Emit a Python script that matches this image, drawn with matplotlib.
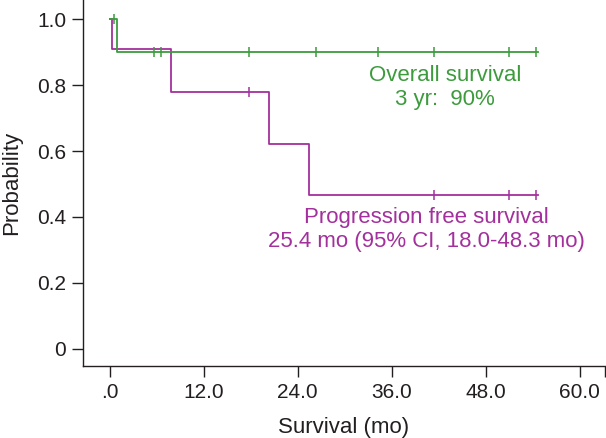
import matplotlib
matplotlib.use("Agg")
import matplotlib.pyplot as plt

plt.rcParams['font.family'] = ['Liberation Sans', 'DejaVu Sans']

# overall survival (months, probability)
os_t = [0, 1.0, 54.7]
os_s = [1.0, 0.90, 0.90]
os_cens_t = [0.5, 5.6, 6.6, 17.8, 26.3, 34.3, 41.4, 51.0, 54.4]
os_cens_s = [1.0, 0.90, 0.90, 0.90, 0.90, 0.90, 0.90, 0.90, 0.90]

# progression free survival
pfs_t = [0, 0.35, 7.85, 20.3, 25.4, 54.7]
pfs_s = [1.0, 0.909, 0.778, 0.622, 0.467, 0.467]
pfs_cens_t = [17.8, 41.4, 51.0, 54.4]
pfs_cens_s = [0.778, 0.467, 0.467, 0.467]

xticks = [0, 12, 24, 36, 48, 60]
xticklabels = [".0", "12.0", "24.0", "36.0", "48.0", "60.0"]
yticks = [0, 0.2, 0.4, 0.6, 0.8, 1.0]
yticklabels = ["0", "0.2", "0.4", "0.6", "0.8", "1.0"]

green = "#3d9b3d"
magenta = "#a3309c"
txt = "#231f20"

fig = plt.figure(figsize=(6.06, 4.38), dpi=100)
ax = fig.add_axes([0.137, 0.1644, 0.861, 0.8356])

ax.step(pfs_t, pfs_s, where="post", color=magenta, lw=1.3)
ax.plot(pfs_cens_t, pfs_cens_s, ls="none", marker="|", ms=7, mew=1.1, color=magenta)
ax.step(os_t, os_s, where="post", color=green, lw=1.3)
ax.plot(os_cens_t, os_cens_s, ls="none", marker="|", ms=7, mew=1.1, color=green)

ax.text(42.8, 0.793, "Overall survival\n3 yr:  90%", color=green, fontsize=16,
        ha="center", va="center", linespacing=1.2)
ax.text(40.4, 0.361, "Progression free survival\n25.4 mo (95% CI, 18.0-48.3 mo)",
        color=magenta, fontsize=16, ha="center", va="center", linespacing=1.2)

ax.set_xlim(-3.4, 63.2)
ax.set_ylim(-0.052, 1.058)
ax.set_xticks(xticks)
ax.set_xticklabels(xticklabels)
ax.set_yticks(yticks)
ax.set_yticklabels(yticklabels)
ax.set_xticks([63.2], minor=True)
ax.tick_params(which="both", direction="out", length=8, width=1.0, color=txt,
               labelsize=15, labelcolor=txt, pad=4)

for side in ["top", "right"]:
    ax.spines[side].set_visible(False)
for side in ["left", "bottom"]:
    ax.spines[side].set_color(txt)
    ax.spines[side].set_linewidth(1.0)

ax.set_xlabel("Survival (mo)", fontsize=16, color=txt, labelpad=11)
ax.set_ylabel("Probability", fontsize=16, color=txt, labelpad=11)

fig.savefig("out.png", dpi=100)
